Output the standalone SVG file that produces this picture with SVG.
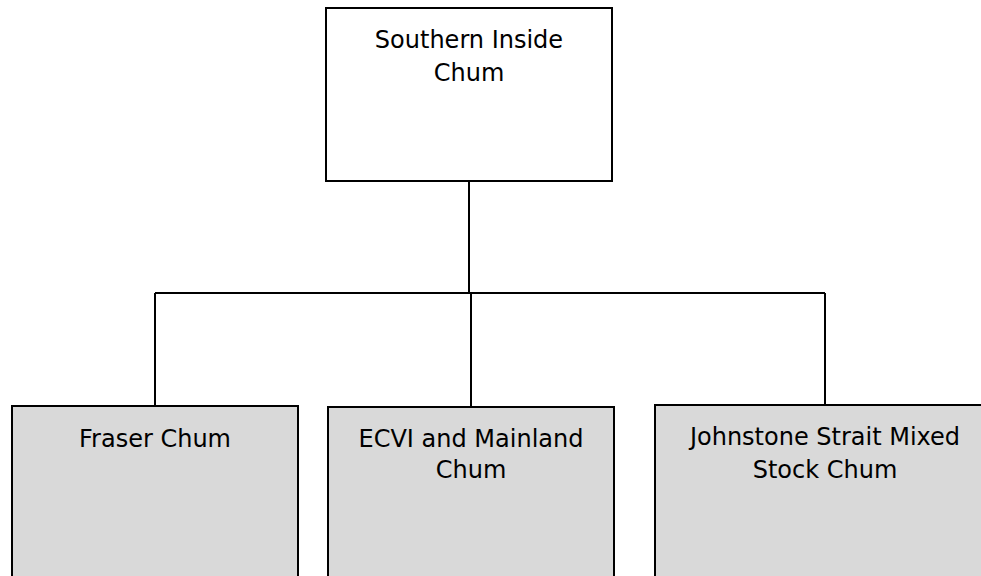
<svg xmlns="http://www.w3.org/2000/svg" width="981" height="576" viewBox="0 0 981 576">
<style>
.box{stroke:#000;stroke-width:2}
.top{fill:#fff}
.sub{fill:#d9d9d9}
.lbl{font-family:"DejaVu Sans",Verdana,sans-serif;font-size:24px;fill:#000;text-anchor:middle}
.conn{fill:none;stroke:#000;stroke-width:2}
</style>
<rect width="981" height="576" fill="#fff"/>
<g id="connectors">
<path class="conn" d="M469 181V293"/>
<path class="conn" d="M155 293H825"/>
<path class="conn" d="M155 293V406"/>
<path class="conn" d="M471 293V407"/>
<path class="conn" d="M825 293V405"/>
</g>
<g id="southern-inside-chum">
<rect class="box top" x="326" y="8" width="286" height="173"/>
<text class="lbl" x="469" y="48">Southern Inside</text>
<text class="lbl" x="469" y="81">Chum</text>
</g>
<g id="fraser-chum">
<rect class="box sub" x="12" y="406" width="286" height="180"/>
<text class="lbl" x="155" y="447">Fraser Chum</text>
</g>
<g id="ecvi-mainland-chum">
<rect class="box sub" x="328" y="407" width="286" height="180"/>
<text class="lbl" x="471" y="447">ECVI and Mainland</text>
<text class="lbl" x="471" y="478">Chum</text>
</g>
<g id="johnstone-strait-chum">
<rect class="box sub" x="655" y="405" width="340" height="180"/>
<text class="lbl" x="825" y="445">Johnstone Strait Mixed</text>
<text class="lbl" x="825" y="478">Stock Chum</text>
</g>
</svg>
